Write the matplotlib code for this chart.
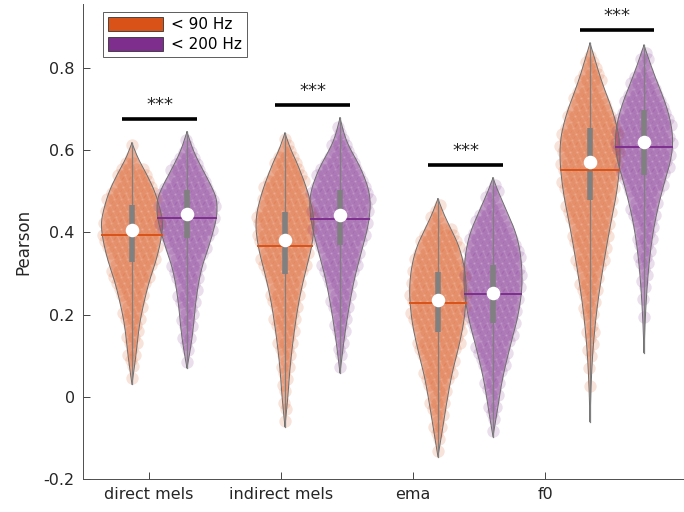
import numpy as np
import matplotlib
matplotlib.use("Agg")
import matplotlib.pyplot as plt
from matplotlib.patches import Patch
from matplotlib.path import Path

# --- DATA ---
groups = ["direct mels", "indirect mels", "ema", "f0"]
series = ["< 90 Hz", "< 200 Hz"]
colors = ["#D95319", "#7E2F8E"]

# violin centres (x units, ticks at 1..4)
pos_90 = [0.871, 2.030, 3.189, 4.341]
pos_200 = [1.288, 2.447, 3.606, 4.750]

# summary stats per violin
median_90 = [0.406, 0.382, 0.236, 0.572]
median_200 = [0.445, 0.443, 0.253, 0.620]
mean_90 = [0.394, 0.367, 0.229, 0.552]
mean_200 = [0.435, 0.433, 0.250, 0.608]
q1_90 = [0.328, 0.300, 0.158, 0.479]
q3_90 = [0.467, 0.450, 0.304, 0.654]
q1_200 = [0.387, 0.370, 0.180, 0.540]
q3_200 = [0.504, 0.504, 0.321, 0.698]

# violin outlines: value levels and half widths (pixels)
prof_90 = [
    ([0.618, 0.58, 0.545, 0.50, 0.45, 0.42, 0.38, 0.33, 0.28, 0.22, 0.17, 0.10, 0.03],
     [0, 6, 14, 23, 29, 31, 29, 24, 17, 11, 7, 4, 0]),
    ([0.642, 0.60, 0.57, 0.50, 0.43, 0.365, 0.30, 0.236, 0.156, 0.073, 0.0, -0.073],
     [0, 6, 12, 23, 30, 27, 20, 14, 9, 5, 3, 0]),
    ([0.482, 0.45, 0.423, 0.358, 0.277, 0.195, 0.122, 0.058, -0.024, -0.088, -0.146],
     [0, 5, 10, 23, 29, 27, 21, 14, 8, 4, 0]),
    ([0.861, 0.82, 0.764, 0.681, 0.608, 0.511, 0.414, 0.316, 0.219, 0.122, 0.03, -0.061],
     [0, 5, 12, 25, 31, 28, 20, 13, 7, 3, 1, 0]),
]
prof_200 = [
    ([0.645, 0.60, 0.56, 0.51, 0.48, 0.44, 0.40, 0.36, 0.31, 0.24, 0.16, 0.11, 0.07],
     [0, 6, 14, 25, 30, 30, 26, 21, 14, 9, 6, 3, 0]),
    ([0.679, 0.64, 0.608, 0.552, 0.487, 0.423, 0.358, 0.285, 0.204, 0.139, 0.058],
     [0, 4, 9, 22, 31, 29, 22, 14, 8, 4, 0]),
    ([0.533, 0.50, 0.462, 0.382, 0.285, 0.204, 0.122, 0.041, -0.039, -0.097],
     [0, 5, 12, 26, 30, 26, 17, 9, 4, 0]),
    ([0.856, 0.82, 0.779, 0.706, 0.642, 0.584, 0.511, 0.43, 0.35, 0.268, 0.18, 0.107],
     [0, 5, 11, 23, 29, 28, 19, 11, 6, 3, 1, 0]),
]

# --- PLOT SETUP ---
W, H = 684, 512
fig = plt.figure(figsize=(W / 100, H / 100), dpi=100)
ax = fig.add_axes([83 / W, 33 / H, (W - 83) / W, (479 - 4) / H])
ax.set_xlim(0.5, 5.053)
ax.set_ylim(-0.2, 0.956)

PX_X = 132.0          # pixels per x unit
PX_Y = 411.0          # pixels per y unit
AX_GRAY = "#262626"


def chaikin(v, w, n=3):
    # round off the corners of the outline
    p = np.column_stack([v, w])
    for _ in range(n):
        q = 0.75 * p[:-1] + 0.25 * p[1:]
        r = 0.25 * p[:-1] + 0.75 * p[1:]
        mid = np.empty((2 * len(q), 2))
        mid[0::2], mid[1::2] = q, r
        p = np.vstack([p[:1], mid, p[-1:]])
    return p[:, 0], p[:, 1]


def draw_violin(x0, prof, color, med, mean, q1, q3):
    vals, hw = chaikin(np.array(prof[0]), np.array(prof[1]) / PX_X)
    xs = np.concatenate([x0 - hw, (x0 + hw)[::-1]])
    ys = np.concatenate([vals, vals[::-1]])

    # dotted texture: staggered grid (golden-ratio row shifts) inside the outline
    path = Path(np.column_stack([xs, ys]))
    step_y = 6.0 / PX_Y
    step_x = 7.0 / PX_X
    pts = []
    for i, yy in enumerate(np.arange(vals.min(), vals.max(), step_y)):
        off = ((i * 0.618) % 1.0) * step_x
        for xx in np.arange(x0 - 0.3 + off, x0 + 0.3, step_x):
            pts.append((xx, yy))
    pts = np.array(pts)
    inside = pts[path.contains_points(pts, radius=-1e-4)]
    ax.fill(xs, ys, color=color, alpha=0.38, lw=0, zorder=1)
    ax.scatter(inside[:, 0], inside[:, 1], s=80, color=color, alpha=0.16,
               linewidths=0, zorder=2)
    ax.plot(xs, ys, color="#6e6e6e", lw=0.7, zorder=3)

    # whisker, box, median, mean
    ax.plot([x0, x0], [vals.min(), vals.max()], color="#808080", lw=0.9, zorder=4)
    ax.plot([x0, x0], [q1, q3], color="#808080", lw=4, solid_capstyle="butt", zorder=5)
    mw = np.interp(mean, vals[::-1], hw[::-1])
    ax.plot([x0 - mw, x0 + mw], [mean, mean], color=color, lw=1.4, zorder=6)
    ax.scatter([x0], [med], s=95, color="white", linewidths=0, zorder=7)
    return vals.max()


for k in range(len(groups)):
    top1 = draw_violin(pos_90[k], prof_90[k], colors[0], median_90[k], mean_90[k],
                       q1_90[k], q3_90[k])
    top2 = draw_violin(pos_200[k], prof_200[k], colors[1], median_200[k], mean_200[k],
                       q1_200[k], q3_200[k])
    yb = max(top1, top2) + 0.031
    ax.plot([pos_90[k] - 0.076, pos_200[k] + 0.076], [yb, yb], color="black",
            lw=2.6, solid_capstyle="butt", zorder=8)
    ax.text((pos_90[k] + pos_200[k]) / 2, yb + 0.012, "***", ha="center",
            va="bottom", fontsize=13, color=AX_GRAY)

# --- AXES STYLE ---
ax.set_xticks(range(1, len(groups) + 1))
ax.set_xticklabels(groups)
ax.set_yticks([-0.2, 0, 0.2, 0.4, 0.6, 0.8])
ax.set_yticklabels(["-0.2", "0", "0.2", "0.4", "0.6", "0.8"])
ax.set_ylabel("Pearson", fontsize=12, color=AX_GRAY, labelpad=8)
ax.tick_params(direction="in", length=5, width=0.6, labelsize=11.5,
               colors=AX_GRAY, pad=6)
for s in ["top", "right"]:
    ax.spines[s].set_visible(False)
for s in ["left", "bottom"]:
    ax.spines[s].set_color("#4d4d4d")
    ax.spines[s].set_linewidth(0.7)

handles = [Patch(facecolor=c, edgecolor="#333333", lw=0.6) for c in colors]
leg = ax.legend(handles, series, loc="upper left", bbox_to_anchor=(0.033, 0.983),
                borderaxespad=0, fontsize=11, frameon=True, fancybox=False,
                handlelength=3.6, handleheight=1.0, handletextpad=0.5,
                borderpad=0.35, labelspacing=0.3)
leg.get_frame().set_edgecolor("#333333")
leg.get_frame().set_linewidth(0.7)

fig.savefig("out.png", dpi=100)
